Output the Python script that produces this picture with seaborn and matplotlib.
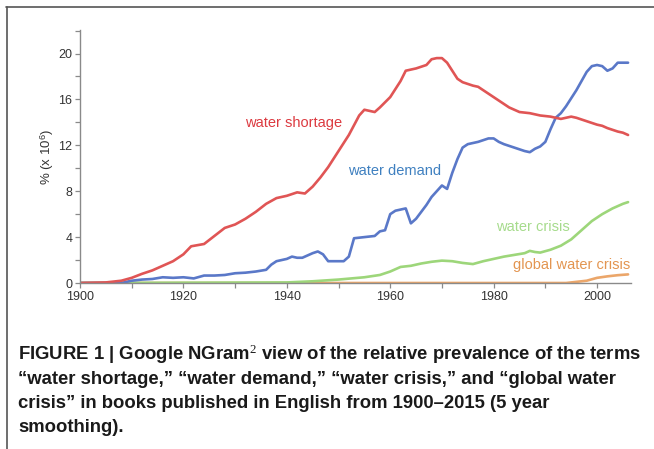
import numpy as np
import pandas as pd
import matplotlib
matplotlib.use("Agg")
import matplotlib.pyplot as plt
import seaborn as sns
from matplotlib.ticker import MultipleLocator
from matplotlib.lines import Line2D

# ---- data ----
shortage_years = [1900, 1905, 1908, 1910, 1912, 1914, 1916, 1918, 1920, 1921.5, 1924, 1926, 1928,
                  1930, 1932, 1934, 1936, 1938, 1940, 1942, 1943.5, 1945, 1946.5, 1948, 1950, 1952,
                  1954, 1955, 1956, 1957, 1958, 1960, 1962, 1963, 1965, 1967, 1968, 1969, 1970,
                  1971, 1972, 1973, 1974, 1976, 1977, 1979, 1981, 1983, 1985, 1987, 1989, 1991,
                  1993, 1995, 1996, 1998, 2000, 2001, 2002, 2004, 2005, 2006]
shortage_vals = [0.0, 0.05, 0.2, 0.45, 0.8, 1.1, 1.5, 1.9, 2.5, 3.2, 3.4, 4.1, 4.8,
                 5.1, 5.6, 6.2, 6.9, 7.4, 7.6, 7.9, 7.8, 8.4, 9.2, 10.1, 11.5, 12.9,
                 14.6, 15.1, 15.0, 14.9, 15.3, 16.2, 17.6, 18.5, 18.7, 19.0, 19.5, 19.6, 19.6,
                 19.2, 18.5, 17.8, 17.5, 17.2, 17.1, 16.5, 15.9, 15.3, 14.9, 14.8, 14.6, 14.5,
                 14.3, 14.5, 14.4, 14.1, 13.8, 13.7, 13.5, 13.2, 13.1, 12.9]

demand_years = [1900, 1908, 1910, 1912, 1914, 1916, 1918, 1920, 1922, 1924, 1926, 1928, 1930,
                1932, 1934, 1936, 1937, 1938, 1940, 1941, 1942, 1943, 1945, 1946, 1947, 1948,
                1950, 1951, 1952, 1953, 1955, 1957, 1958, 1959, 1960, 1961, 1963, 1964, 1965,
                1967, 1968, 1969, 1970, 1971, 1972, 1973, 1974, 1975, 1977, 1979, 1980, 1981,
                1982, 1984, 1986, 1987, 1988, 1989, 1990, 1991, 1992, 1993, 1994, 1996, 1998,
                1999, 2000, 2001, 2002, 2003, 2004, 2006]
demand_vals = [0.0, 0.0, 0.2, 0.3, 0.35, 0.5, 0.45, 0.5, 0.4, 0.65, 0.65, 0.7, 0.85,
               0.9, 1.0, 1.15, 1.6, 1.9, 2.1, 2.3, 2.2, 2.2, 2.6, 2.75, 2.5, 1.9,
               1.9, 1.9, 2.3, 3.9, 4.0, 4.1, 4.5, 4.6, 6.0, 6.3, 6.5, 5.2, 5.6,
               6.8, 7.5, 8.0, 8.5, 8.2, 9.6, 10.8, 11.8, 12.1, 12.3, 12.6, 12.6, 12.3,
               12.1, 11.8, 11.5, 11.4, 11.7, 11.9, 12.3, 13.4, 14.4, 14.8, 15.4, 16.8, 18.4,
               18.9, 19.0, 18.9, 18.5, 18.7, 19.2, 19.2]

crisis_years = [1900, 1940, 1945, 1950, 1955, 1958, 1960, 1962, 1964, 1966, 1968, 1970, 1972,
                1974, 1976, 1978, 1980, 1982, 1984, 1986, 1987, 1988, 1989, 1991, 1993, 1995,
                1997, 1999, 2001, 2003, 2005, 2006]
crisis_vals = [0.0, 0.05, 0.15, 0.3, 0.5, 0.7, 1.0, 1.4, 1.5, 1.7, 1.85, 1.95, 1.9,
               1.75, 1.65, 1.9, 2.1, 2.3, 2.45, 2.6, 2.8, 2.7, 2.65, 2.9, 3.25, 3.8,
               4.6, 5.4, 6.0, 6.5, 6.9, 7.05]

global_years = [1900, 1994, 1996, 1998, 2000, 2002, 2004, 2006]
global_vals = [0.0, 0.0, 0.1, 0.2, 0.45, 0.58, 0.68, 0.75]

terms = ["global water crisis", "water crisis", "water demand", "water shortage"]
line_colors = ["#eba66a", "#9dd67a", "#5a78c8", "#e05555"]
label_colors = ["#e39550", "#a6db8c", "#3f80c0", "#dc3a40"]

x_ticks = [1900, 1920, 1940, 1960, 1980, 2000]
y_ticks = [0, 4, 8, 12, 16, 20]

caption_lines = [
    "FIGURE 1 | Google NGram$^{\\mathrm{2}}$ view of the relative prevalence of the terms",
    "\u201cwater shortage,\u201d \u201cwater demand,\u201d \u201cwater crisis,\u201d and \u201cglobal water",
    "crisis\u201d in books published in English from 1900\u20132015 (5 year",
    "smoothing).",
]

frames = []
for t, yrs, vals in [("water shortage", shortage_years, shortage_vals),
                     ("water demand", demand_years, demand_vals),
                     ("water crisis", crisis_years, crisis_vals),
                     ("global water crisis", global_years, global_vals)]:
    frames.append(pd.DataFrame({"year": yrs, "value": vals, "term": t}))
df = pd.concat(frames, ignore_index=True)

# ---- style ----
sns.set_theme(style="white")
plt.rcParams["font.family"] = ["Liberation Sans", "DejaVu Sans"]
plt.rcParams["mathtext.fontset"] = "custom"
plt.rcParams["mathtext.rm"] = "Liberation Serif"
plt.rcParams["mathtext.it"] = "Liberation Serif:italic"
plt.rcParams["mathtext.bf"] = "Liberation Serif:bold"
plt.rcParams["mathtext.sf"] = "Liberation Sans"

fig = plt.figure(figsize=(6.54, 4.49), dpi=100)
ax = fig.add_axes([0.1223, 0.3697, 0.842, 0.5635])

sns.lineplot(data=df, x="year", y="value", hue="term", hue_order=terms,
             palette=dict(zip(terms, line_colors)), linewidth=1.9,
             legend=False, ax=ax)

ax.set_xticks(x_ticks)
ax.set_xticklabels([str(v) for v in x_ticks])
ax.xaxis.set_minor_locator(MultipleLocator(10))
ax.set_yticks(y_ticks)
ax.set_yticklabels([str(v) for v in y_ticks])
ax.yaxis.set_minor_locator(MultipleLocator(2))
ax.set_xlim(1900, 2006.5)
ax.set_ylim(0, 22.05)

for side in ["top", "right"]:
    ax.spines[side].set_visible(False)
for side in ["left", "bottom"]:
    ax.spines[side].set_color("#8a8a8a")
    ax.spines[side].set_linewidth(1.0)

ax.tick_params(axis="both", which="both", direction="out", length=3.5, width=0.9,
               color="#8a8a8a", labelsize=9, labelcolor="#333333", pad=2)
ax.tick_params(axis="both", which="major", bottom=True, left=True)
ax.tick_params(axis="both", which="minor", bottom=True, left=True)
ax.set_xlabel("")
ax.set_ylabel("% (x 10$^{\\mathsf{6}}$)", fontsize=9.5, color="#333333", labelpad=2)

# series labels
ax.text(1941.4, 13.95, "water shortage", color=label_colors[3], fontsize=10.5,
        ha="center", va="center")
ax.text(1960.8, 9.75, "water demand", color=label_colors[2], fontsize=10.5,
        ha="center", va="center")
ax.text(1987.5, 4.9, "water crisis", color=label_colors[1], fontsize=10.5,
        ha="center", va="center")
ax.text(1995.1, 1.55, "global water crisis", color=label_colors[0], fontsize=10.5,
        ha="center", va="center")

# caption
baselines = [360, 384, 408, 432]
for line, yb in zip(caption_lines, baselines):
    fig.text(18 / 654, 1 - yb / 449, line, fontsize=13.3, fontweight="bold",
             color="#1a1a1a", ha="left", va="baseline")

# frame lines (top and left)
fig.add_artist(Line2D([6 / 654, 1.0], [1 - 7 / 449, 1 - 7 / 449],
                      transform=fig.transFigure, color="#555555", linewidth=1.2))
fig.add_artist(Line2D([7 / 654, 7 / 654], [1 - 7 / 449, 0.0],
                      transform=fig.transFigure, color="#555555", linewidth=1.2))

fig.savefig("out.png", dpi=100)
